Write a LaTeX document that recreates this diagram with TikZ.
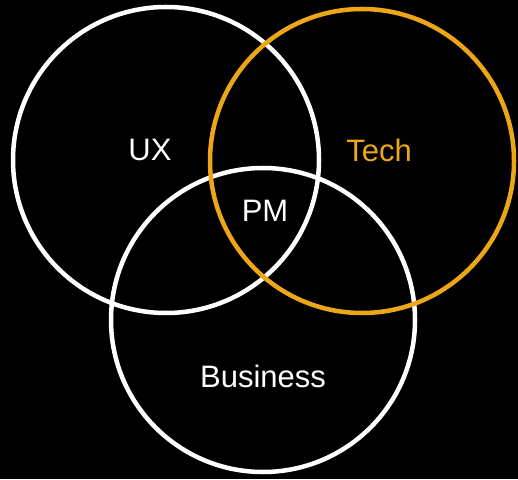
\documentclass[tikz,border=0pt]{standalone}
\usepackage{fontspec}
\setmainfont{Liberation Sans}
\definecolor{techorange}{RGB}{236,166,22}
\begin{document}
\begin{tikzpicture}[x=1pt,y=1pt,
  ring/.style={draw=white,line width=4.5pt},
  lbl/.style={font=\fontsize{31}{37}\selectfont,text=white,inner sep=0pt}]
\fill[black] (0,0) rectangle (518,479);
\useasboundingbox (0,0) rectangle (518,479);
\draw[ring] (166,319) circle (153);
\draw[ring] (263,159) circle (152);
\draw[ring,draw=techorange] (362,318) circle (152);
\node[lbl] (ux) at (150,329) {UX};
\node[lbl,text=techorange] (tech) at (379,329) {Tech};
\node[lbl] (pm) at (265,268) {PM};
\node[lbl] (bus) at (263,103) {Business};
\end{tikzpicture}
\end{document}
